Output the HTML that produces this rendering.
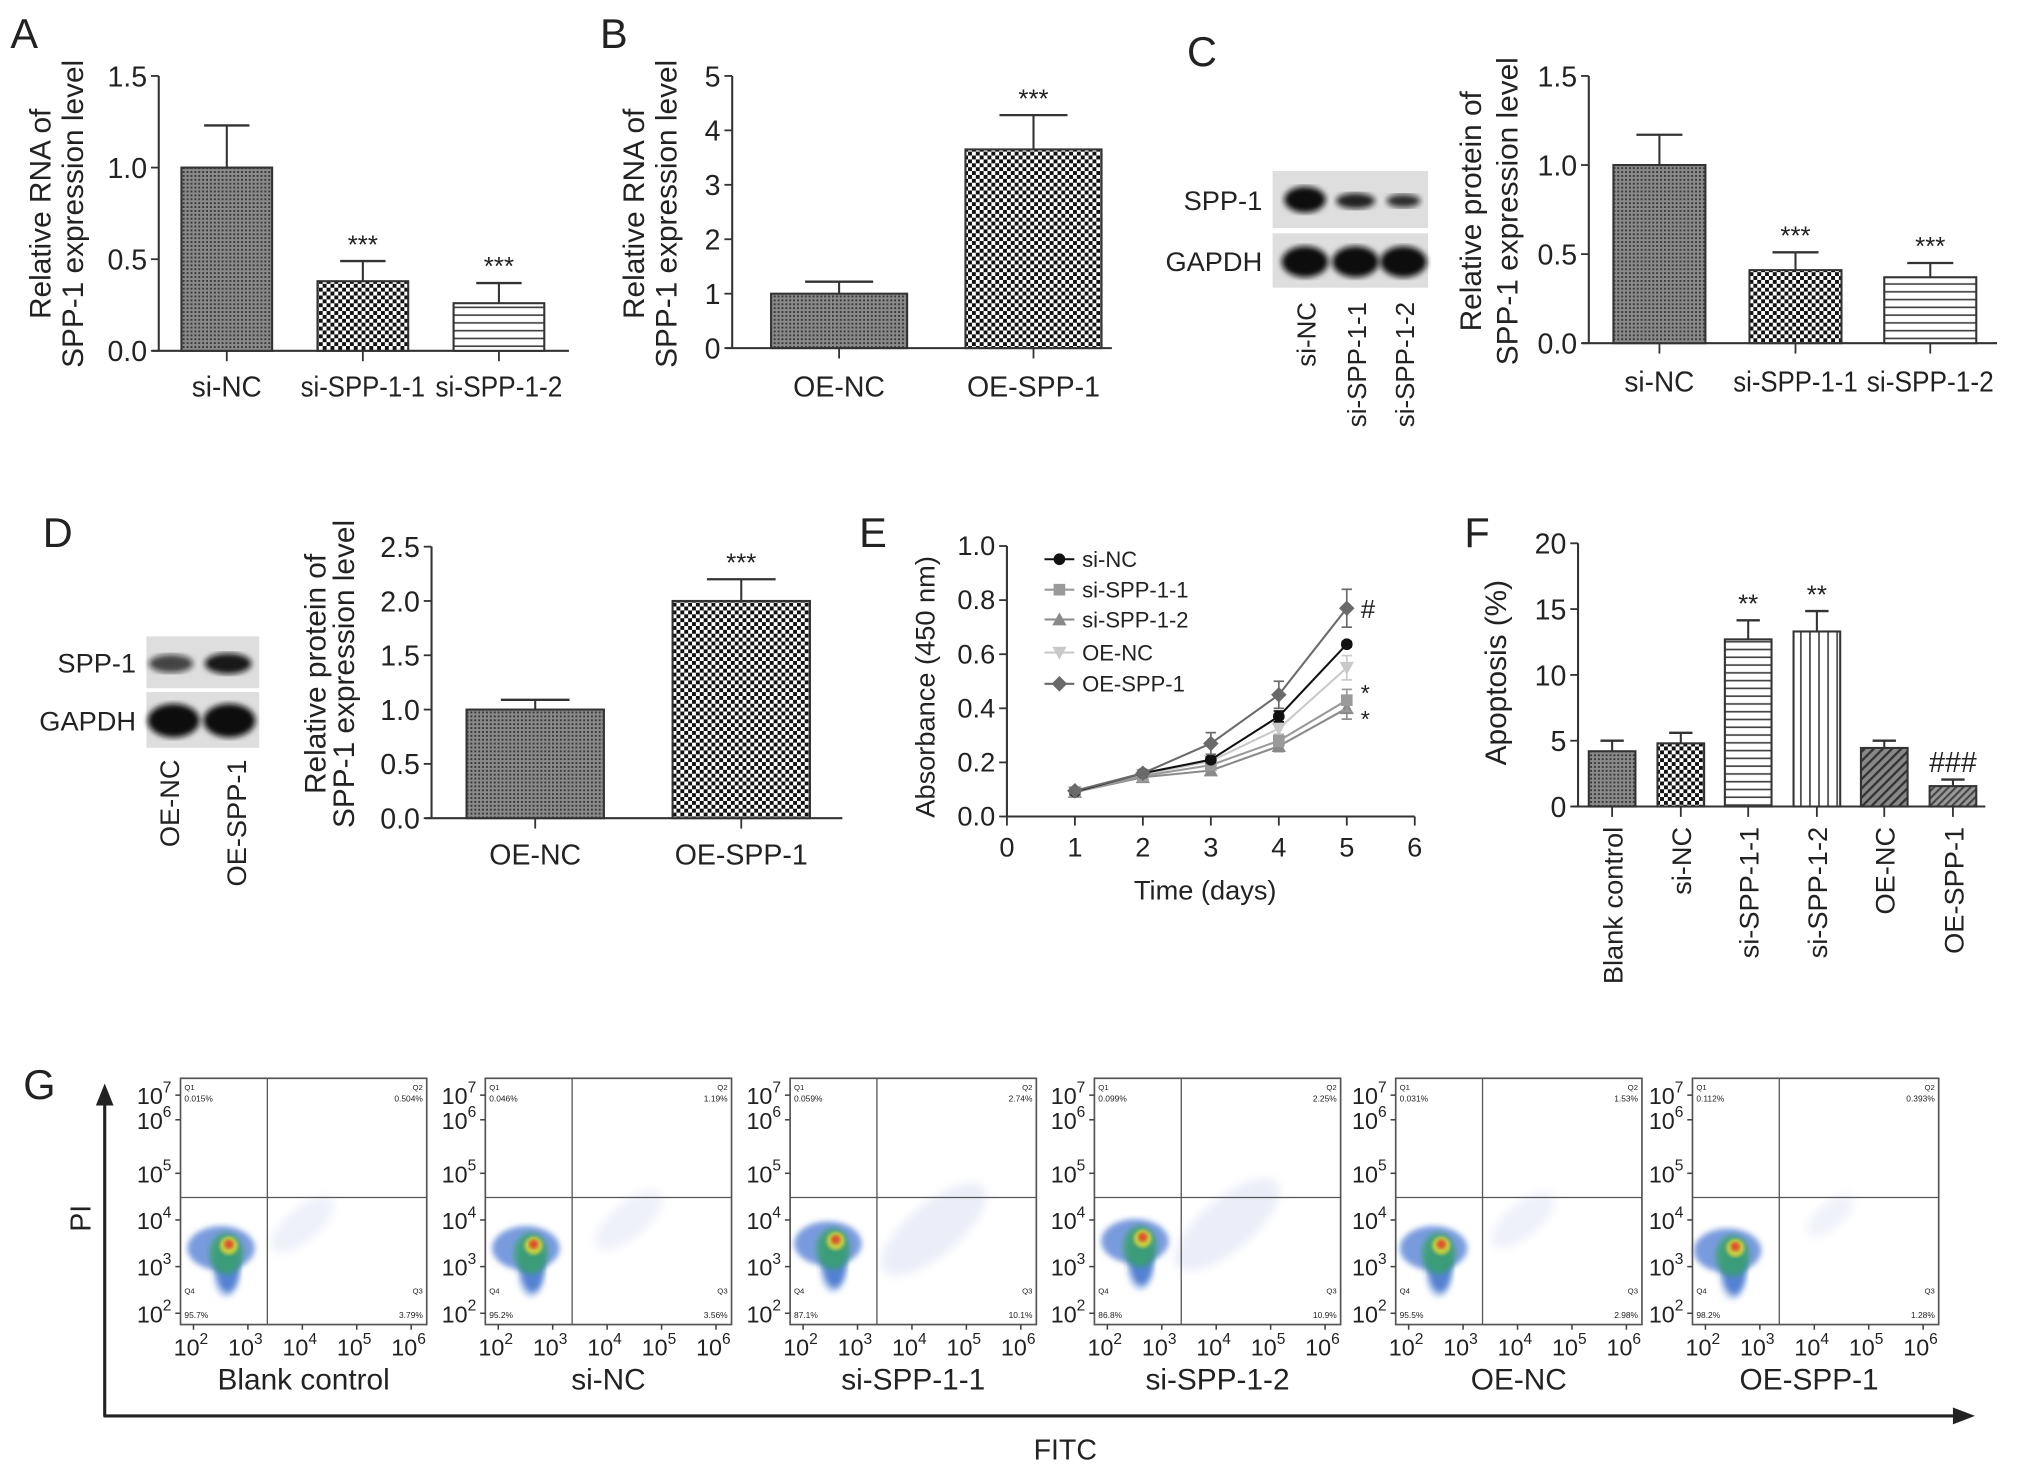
<!DOCTYPE html>
<html><head><meta charset="utf-8"><style>
html,body{margin:0;padding:0;background:#fff}
svg{display:block}
text{font-family:"Liberation Sans",Arial,sans-serif;fill:#222}
</style></head><body>
<svg id="fig" width="2032" height="1471" viewBox="0 0 1568 1135" preserveAspectRatio="none" xmlns="http://www.w3.org/2000/svg">
<defs>
<pattern id="pDark" width="3" height="3" patternUnits="userSpaceOnUse"><rect width="3" height="3" fill="#8a8a8a"/><rect width="1.5" height="1.5" fill="#3a3a3a"/></pattern>
<pattern id="pCheck" width="6" height="6" patternUnits="userSpaceOnUse"><rect width="6" height="6" fill="#fff"/><rect width="3" height="3" fill="#111"/><rect x="3" y="3" width="3" height="3" fill="#111"/></pattern>
<pattern id="pH" width="6" height="6" patternUnits="userSpaceOnUse"><rect width="6" height="6" fill="#fff"/><rect y="2.5" width="6" height="1.3" fill="#444"/></pattern>
<pattern id="pV" width="7" height="7" patternUnits="userSpaceOnUse"><rect width="7" height="7" fill="#fff"/><rect x="3" width="1.3" height="7" fill="#444"/></pattern>
<pattern id="pDiag" width="5" height="5" patternUnits="userSpaceOnUse" patternTransform="rotate(45)"><rect width="5" height="5" fill="#888"/><rect width="1.8" height="5" fill="#333"/></pattern>
<pattern id="pDiag2" width="4" height="4" patternUnits="userSpaceOnUse" patternTransform="rotate(45)"><rect width="4" height="4" fill="#999"/><rect width="1.6" height="4" fill="#444"/></pattern>
<filter id="blur2"><feGaussianBlur stdDeviation="2.2"/></filter>
<filter id="blur4"><feGaussianBlur stdDeviation="3.5"/></filter>
<filter id="blur1"><feGaussianBlur stdDeviation="1.2"/></filter>
</defs>
<g id="root"></g>
</svg>
<script>
// ---------- DATA ----------
const aCats = ["si-NC","si-SPP-1-1","si-SPP-1-2"];
const aVals = [1.0, 0.38, 0.26];
const aErrs = [0.23, 0.11, 0.11];
const aStars = ["","***","***"];
const aTicks = [0.0, 0.5, 1.0, 1.5];
const aTickLabels = ["0.0","0.5","1.0","1.5"];
const bCats = ["OE-NC","OE-SPP-1"];
const bVals = [1.0, 3.65];
const bErrs = [0.22, 0.63];
const bStars = ["","***"];
const bTicks = [0,1,2,3,4,5];
const bTickLabels = ["0","1","2","3","4","5"];
const cCats = ["si-NC","si-SPP-1-1","si-SPP-1-2"];
const cVals = [1.0, 0.41, 0.37];
const cErrs = [0.17, 0.10, 0.08];
const cStars = ["","***","***"];
const cTicks = [0.0, 0.5, 1.0, 1.5];
const cTickLabels = ["0.0","0.5","1.0","1.5"];
const dCats = ["OE-NC","OE-SPP-1"];
const dVals = [1.0, 2.0];
const dErrs = [0.09, 0.2];
const dStars = ["","***"];
const dTicks = [0,0.5,1.0,1.5,2.0,2.5];
const dTickLabels = ["0.0","0.5","1.0","1.5","2.0","2.5"];
const eDays = [1,2,3,4,5];
const eSeriesNames = ["si-NC","si-SPP-1-1","si-SPP-1-2","OE-NC","OE-SPP-1"];
const eSiNC = [0.092,0.16,0.21,0.37,0.637];
const eSi11 = [0.09,0.15,0.19,0.28,0.43];
const eSi12 = [0.09,0.145,0.17,0.26,0.40];
const eOENC = [0.09,0.155,0.205,0.325,0.55];
const eOESPP = [0.095,0.16,0.27,0.45,0.77];
const eErrSiNC = [0.01,0.01,0.01,0.02,0.01];
const eErrSi11 = [0.01,0.01,0.01,0.02,0.04];
const eErrSi12 = [0.01,0.01,0.01,0.02,0.04];
const eErrOENC = [0.01,0.01,0.01,0.02,0.045];
const eErrOESPP = [0.01,0.01,0.04,0.05,0.07];
const eXTicks = [0,1,2,3,4,5,6];
const eYTicks = [0,0.2,0.4,0.6,0.8,1.0];
const eYTickLabels = ["0.0","0.2","0.4","0.6","0.8","1.0"];
const fCats = ["Blank control","si-NC","si-SPP-1-1","si-SPP-1-2","OE-NC","OE-SPP-1"];
const fVals = [4.2, 4.8, 12.7, 13.3, 4.45, 1.55];
const fErrs = [0.8, 0.8, 1.45, 1.55, 0.55, 0.5];
const fStars = ["","","**","**","","###"];
const fTicks = [0,5,10,15,20];
const fTickLabels = ["0","5","10","15","20"];
const gNames = ["Blank control","si-NC","si-SPP-1-1","si-SPP-1-2","OE-NC","OE-SPP-1"];
const gQ1 = ["0.015%","0.046%","0.059%","0.099%","0.031%","0.112%"];
const gQ2 = ["0.504%","1.19%","2.74%","2.25%","1.53%","0.393%"];
const gQ3 = ["3.79%","3.56%","10.1%","10.9%","2.98%","1.28%"];
const gQ4 = ["95.7%","95.2%","87.1%","86.8%","95.5%","98.2%"];
const gMainX = [2.65,2.65,2.6,2.65,2.6,2.55];
const gMainY = [3.45,3.45,3.55,3.6,3.45,3.4];
const gCloudX = [4.0,4.4,4.4,4.2,4.1,4.3];
const gCloudY = [3.9,4.0,3.8,3.9,4.0,4.1];
const gCloudSize = [0.5,0.55,1.0,1.0,0.5,0.3];

// ---------- HELPERS ----------
const NS="http://www.w3.org/2000/svg";
const root=document.getElementById('root');
function el(tag,attrs,parent,txt){const e=document.createElementNS(NS,tag);for(const k in attrs)e.setAttribute(k,attrs[k]);if(txt!==undefined)e.textContent=txt;(parent||root).appendChild(e);return e;}
function grp(name){const g=el('g',{});return g;}
function txt(g,x,y,s,size,anchor,extra){const t=el('text',Object.assign({x:x,y:y,'font-size':size,'text-anchor':anchor||'start'},extra||{}),g,s);return t;}
function line(g,x1,y1,x2,y2,w,c){return el('line',{x1,y1,x2,y2,stroke:c||'#333','stroke-width':w||1.5},g);}

function panelLetter(letter,x,y){const t=txt(root,x,y,letter,32,'start');}

function barChart(name,cfg,cats,vals,errs,stars,ticks,tickLabels,pats){
  const g=grp(name);
  const sy=v=>cfg.y0-(v-ticks[0])/(ticks[ticks.length-1]-ticks[0])*(cfg.y0-cfg.yTop);
  const ya=line(g,cfg.ax,cfg.y0,cfg.ax,cfg.yTop,1.6);
  const xa=line(g,cfg.ax-5,cfg.y0,cfg.xEnd,cfg.y0,1.6);
  ticks.forEach((t,i)=>{const y=sy(t);line(g,cfg.ax-6,y,cfg.ax,y,1.4);
    const tl=txt(g,cfg.ax-9,y+8,tickLabels[i],cfg.tfs||22,'end');});
  cats.forEach((c,i)=>{
    const x0=cfg.bx[i], w=cfg.bw, cx=x0+w/2;
    const r=el('rect',{x:x0,y:sy(vals[i]),width:w,height:cfg.y0-sy(vals[i]),fill:'url(#'+pats[i]+')',stroke:'#333','stroke-width':1.6},g);
    
    
    const et=sy(vals[i]+errs[i]);
    const eb=line(g,cx,sy(vals[i]),cx,et,1.6);
    line(g,cx-w*0.25,et,cx+w*0.25,et,1.8);
    line(g,cx,cfg.y0,cx,cfg.y0+8,1.4);
    if(stars[i]){const s=txt(g,cx,et-6,stars[i],stars[i][0]=='#'?22:20,'middle');}
    if(cfg.rot){const t=txt(g,0,0,c,21,'end',{transform:'translate('+(cx+8)+','+cfg.ly+') rotate(-90)'});}
    else{const ex={};if(cfg.tl&&cfg.tl[i]){ex.textLength=cfg.tl[i];ex.lengthAdjust='spacingAndGlyphs';}
      const t=txt(g,cx,cfg.ly,c,cfg.cfs||22,'middle',ex);}
  });
  cfg.title.forEach((s,k)=>{const t=txt(g,0,0,s,cfg.tsz||23,'middle',{transform:'translate('+cfg.tx[k]+','+cfg.ty+') rotate(-90)'});});
  return g;
}

panelLetter('A',8,37);
barChart('chart-a',{ax:122.5,y0:270.7,yTop:58.6,xEnd:439,bx:[140,245,350],bw:70,ly:306,tl:[54,96,98],title:["Relative RNA of","SPP-1 expression level"],tx:[39,64],ty:165},aCats,aVals,aErrs,aStars,aTicks,aTickLabels,['pDark','pCheck','pH']);
panelLetter('B',463,37);
barChart('chart-b',{ax:565,y0:268.6,yTop:58.6,xEnd:858,bx:[595,745],bw:105,ly:306,title:["Relative RNA of","SPP-1 expression level"],tx:[497,522],ty:165},bCats,bVals,bErrs,bStars,bTicks,bTickLabels,['pDark','pCheck']);
panelLetter('C',916,51);
barChart('chart-c',{ax:1226,y0:264.8,yTop:58.6,xEnd:1541,bx:[1245,1350,1454],bw:71,ly:302,tl:[54,96,98],title:["Relative protein of","SPP-1 expression level"],tx:[1143,1171],ty:163},cCats,cVals,cErrs,cStars,cTicks,cTickLabels,['pDark','pCheck','pH']);
panelLetter('D',33,422);
barChart('chart-d',{ax:333,y0:631.3,yTop:421.8,xEnd:650,bx:[360,519],bw:106,ly:667,title:["Relative protein of","SPP-1 expression level"],tx:[251,273],ty:520},dCats,dVals,dErrs,dStars,dTicks,dTickLabels,['pDark','pCheck']);

function blot(name,x,y,w,h,bands,label,lx){
  const g=grp(name);
  el('rect',{x,y,width:w,height:h,fill:'#dedede'},g);
  bands.forEach(b=>{const e=el('ellipse',{cx:b[0],cy:b[1],rx:b[2],ry:b[3],fill:'#111','fill-opacity':b[4],filter:'url(#blur2)'},g);});
  const t=txt(g,lx,y+h/2+8,label,21,'end');
}
blot('blot-c-spp1',982,132,120,44,[[1007,154,16,10,1],[1046,155,15,6,0.9],[1083,155,13,5,0.85]],'SPP-1',974);
blot('blot-c-gapdh',982,180,120,42,[[1007,202,18,12,1],[1046,202,18,12,1],[1083,202,18,12,1]],'GAPDH',974);
['si-NC','si-SPP-1-1','si-SPP-1-2'].forEach((s,i)=>{const t=txt(root,0,0,s,20,'end',{transform:'translate('+([1007,1046,1083][i]+8)+',233) rotate(-90)'});});
blot('blot-d-spp1',113,491,87,40,[[132,512,17,7,0.75],[176,512,18,8,0.95]],'SPP-1',105);
blot('blot-d-gapdh',113,534,87,43,[[134,556,20,13,1],[177,556,20,13,1]],'GAPDH',105);
['OE-NC','OE-SPP-1'].forEach((s,i)=>{const t=txt(root,0,0,s,21,'end',{transform:'translate('+([130,182][i]+8)+',586) rotate(-90)'});});

panelLetter('E',663,422);
(function(){
  const g=grp('chart-e');
  const ax=777,y0=630,yTop=421.3,x6=1091.7;
  const sx=v=>ax+(v-eXTicks[0])/(eXTicks[eXTicks.length-1]-eXTicks[0])*(x6-ax);
  const sy=v=>y0-(v-eYTicks[0])/(eYTicks[eYTicks.length-1]-eYTicks[0])*(y0-yTop);
  const ya=line(g,ax,y0,ax,yTop,1.6);
  const xa=line(g,ax,y0,x6,y0,1.6);
  eYTicks.forEach((t,i)=>{line(g,ax-6,sy(t),ax,sy(t),1.4);const l=txt(g,ax-9,sy(t)+7,eYTickLabels[i],21,'end');});
  eXTicks.forEach(t=>{line(g,sx(t),y0,sx(t),y0+7,1.4);const l=txt(g,sx(t),y0+31,String(t),21,'middle');});
  const yt=txt(g,0,0,'Absorbance (450 nm)',21,'middle',{transform:'translate(721,530) rotate(-90)'});
  const xt=txt(g,930,694,'Time (days)',21,'middle');
  const series=[eSiNC,eSi11,eSi12,eOENC,eOESPP];
  const errs=[eErrSiNC,eErrSi11,eErrSi12,eErrOENC,eErrOESPP];
  const cols=['#111','#9a9a9a','#8a8a8a','#c9c9c9','#6a6a6a'];
  const shapes=['circle','square','tri','itri','diamond'];
  function marker(gg,shape,x,y,c,s){
    let m;
    if(shape=='circle')m=el('circle',{cx:x,cy:y,r:s,fill:c},gg);
    else if(shape=='square')m=el('rect',{x:x-s,y:y-s,width:2*s,height:2*s,fill:c},gg);
    else if(shape=='tri')m=el('polygon',{points:(x)+','+(y-s-1)+' '+(x+s+1)+','+(y+s)+' '+(x-s-1)+','+(y+s),fill:c},gg);
    else if(shape=='itri')m=el('polygon',{points:(x)+','+(y+s+1)+' '+(x+s+1)+','+(y-s)+' '+(x-s-1)+','+(y-s),fill:c},gg);
    else m=el('polygon',{points:x+','+(y-s-1.5)+' '+(x+s+1.5)+','+y+' '+x+','+(y+s+1.5)+' '+(x-s-1.5)+','+y,fill:c},gg);
    return m;
  }
  const order=[3,2,1,0,4];
  order.forEach(k=>{
    const sg=el('g',{},g);
    const pts=eDays.map((d,i)=>sx(d)+','+sy(series[k][i])).join(' ');
    const pl=el('polyline',{points:pts,fill:'none',stroke:cols[k],'stroke-width':1.6},sg);
    eDays.forEach((d,i)=>{
      const x=sx(d),v=series[k][i],e=errs[k][i];
      line(sg,x,sy(v-e),x,sy(v+e),1.3,cols[k]);line(sg,x-4,sy(v+e),x+4,sy(v+e),1.3,cols[k]);line(sg,x-4,sy(v-e),x+4,sy(v-e),1.3,cols[k]);
      const m=marker(sg,shapes[k],x,sy(v),cols[k],4.5);
      
      
    });
  });
  const ly=[431.5,455,478,503.5,527.6];
  eSeriesNames.forEach((n,k)=>{
    const lg=el('g',{},g);
    line(lg,806,ly[k],829,ly[k],1.6,cols[k]);marker(lg,shapes[k],817.5,ly[k],cols[k],4.5);
    txt(lg,835,ly[k]+6,n,17,'start');
  });
  const s1=txt(g,1050,477,'#',20,'start');
  const s2=txt(g,1050,541,'*',18,'start');
  const s3=txt(g,1050,561,'*',18,'start');
})();

panelLetter('F',1130,422);
barChart('chart-f',{ax:1217.7,y0:622.3,yTop:419.2,xEnd:1532,bx:[1226,1279,1331,1384,1436,1489],bw:36,ly:638,rot:true,title:["Apoptosis (%)"],tx:[1162],ty:519},fCats,fVals,fErrs,fStars,fTicks,fTickLabels,['pDark','pCheck','pH','pV','pDiag','pDiag2']);

panelLetter('G',18,848);
(function(){
  const g=grp('flow-cytometry');
  const lefts=[139.3,374.5,609.7,844.5,1077,1306];
  const top=832,w=190,h=190;
  const yDec={2:1013.3-top,3:977.3-top,4:941.3-top,5:905.3-top,6:864-top,7:845-top};
  const fx=l=>10+(l-2)*42;
  const fy=l=>{const a=Math.floor(l),b=Math.min(7,a+1);const f=l-a;return yDec[a]+(yDec[b]-yDec[a])*f;};
  gNames.forEach((n,i)=>{
    const L=lefts[i];
    const pg=el('g',{transform:'translate('+L+','+top+')'},g);
    
    
    el('rect',{x:0,y:0,width:w,height:h,fill:'#fff'},pg);
    const cs=gCloudSize[i];
    el('ellipse',{cx:fx(gCloudX[i]),cy:fy(gCloudY[i]),rx:40*cs+10,ry:14*cs+6,transform:'rotate(-40 '+fx(gCloudX[i])+' '+fy(gCloudY[i])+')',fill:'#aab4e2','fill-opacity':0.15+0.08*cs,filter:'url(#blur4)'},pg);
    const mx=fx(gMainX[i]),my=fy(gMainY[i]);
    el('ellipse',{cx:mx-2,cy:my+18,rx:11,ry:22,fill:'#9db7e8','fill-opacity':0.6,filter:'url(#blur2)'},pg);
    el('ellipse',{cx:mx-6,cy:my+2,rx:26,ry:17,fill:'#3f6fd0','fill-opacity':0.7,filter:'url(#blur2)'},pg);
    el('ellipse',{cx:mx-1,cy:my+16,rx:9,ry:20,fill:'#2f66c8','fill-opacity':0.75,filter:'url(#blur2)'},pg);
    el('ellipse',{cx:mx-2,cy:my+6,rx:13,ry:16,fill:'#3aa36a','fill-opacity':0.85,filter:'url(#blur2)'},pg);
    el('ellipse',{cx:mx,cy:my,rx:7,ry:7,fill:'#d4d23a','fill-opacity':0.9,filter:'url(#blur1)'},pg);
    el('ellipse',{cx:mx,cy:my-1,rx:3.5,ry:3.5,fill:'#e0502a',filter:'url(#blur1)'},pg);
    el('rect',{x:0,y:0,width:w,height:h,fill:'none',stroke:'#555','stroke-width':1.3},pg);
    line(pg,67,0,67,h,1,'#555');line(pg,0,92,w,92,1,'#555');
    [['Q1',3,9,'start'],['Q2',w-3,9,'end'],['Q4',3,h-24,'start'],['Q3',w-3,h-24,'end']].forEach(q=>{txt(pg,q[1],q[2],q[0],6,q[3]);});
    txt(pg,3,18,gQ1[i],6.5,'start');txt(pg,w-3,18,gQ2[i],6.5,'end');
    txt(pg,3,h-5,gQ4[i],6.5,'start');txt(pg,w-3,h-5,gQ3[i],6.5,'end');
    [2,3,4,5,6,7].forEach(d=>{
      line(pg,-4,yDec[d],0,yDec[d],1.2,'#444');
      const t=el('text',{x:-7,y:yDec[d]+7,'font-size':18,'text-anchor':'end'},pg);
      
      el('tspan',{},t,'10');el('tspan',{dy:-9,'font-size':12},t,String(d));
    });
    [2,3,4,5,6].forEach(d=>{
      line(pg,fx(d),h,fx(d),h+4,1.2,'#444');
      const t=el('text',{x:fx(d)-2,y:h+24,'font-size':18,'text-anchor':'middle'},pg);
      
      el('tspan',{},t,'10');el('tspan',{dy:-9,'font-size':12},t,String(d));
    });
    const nl=txt(pg,w/2+(i==5?-5:0),h+50,n,23,'middle');
  });
  const va=line(g,80.8,1093,80.8,850,2.4,'#222');
  el('polygon',{points:'80.8,836 74,853 87.6,853',fill:'#222'},g);
  const ha=line(g,80,1092.5,1510,1092.5,2.4,'#222');
  el('polygon',{points:'1524,1092.5 1507,1086 1507,1099',fill:'#222'},g);
  const pi=txt(g,0,0,'PI',22,'middle',{transform:'translate(70,940) rotate(-90)'});
  const fi=txt(g,822,1126,'FITC',22,'middle');
})();
</script>
</body></html>
